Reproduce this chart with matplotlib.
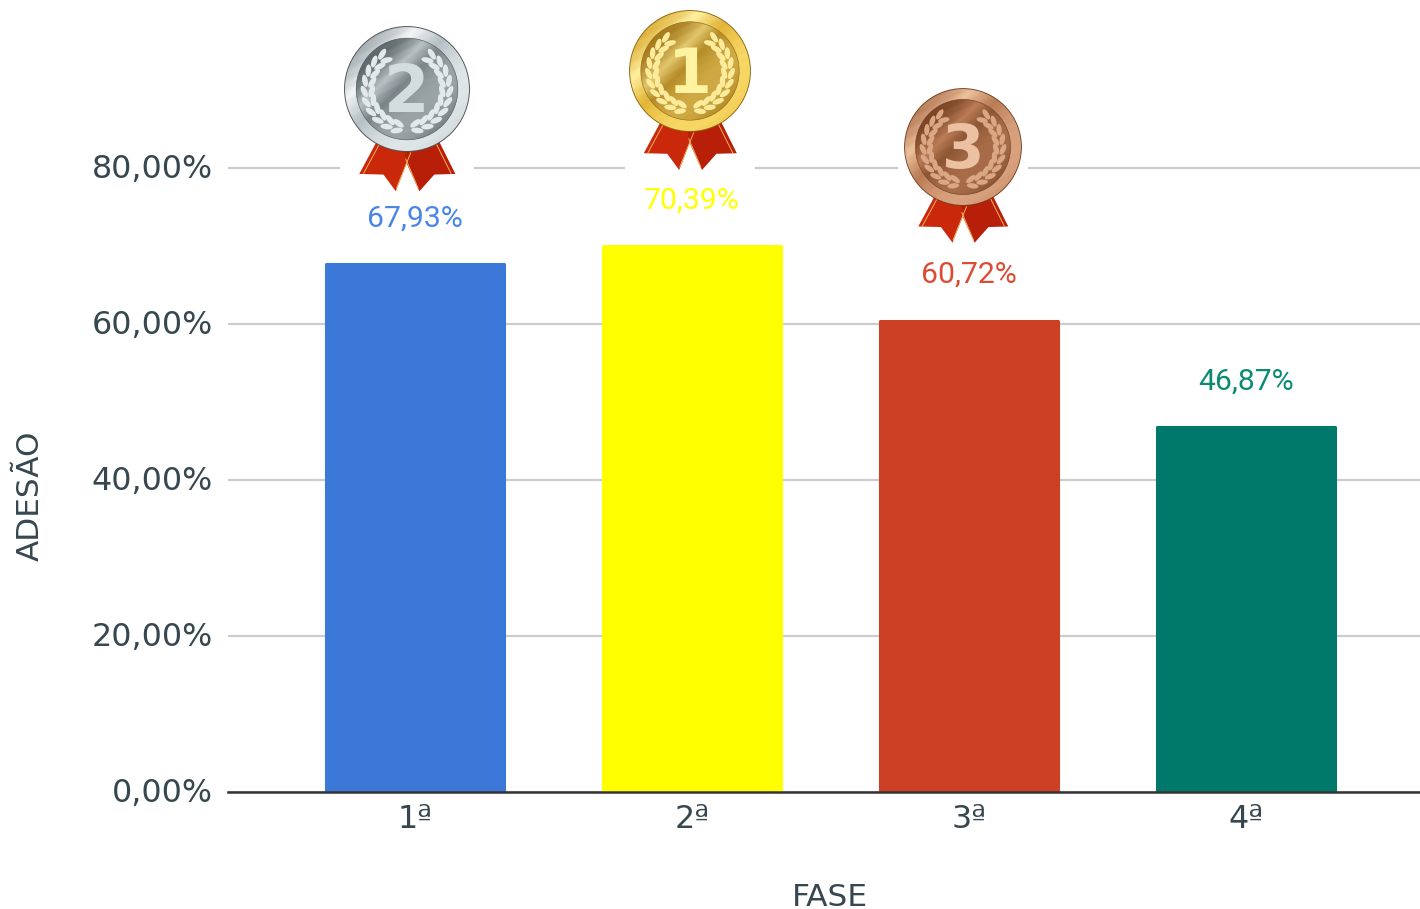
# -*- coding: utf-8 -*-

#-------------------------------------------------------------------------------
# PACKAGES
import numpy as np
import matplotlib.pyplot as plt
from matplotlib.colors import LinearSegmentedColormap
from matplotlib.patches import Circle, Ellipse, Polygon, Rectangle
from matplotlib.transforms import ScaledTranslation
#-------------------------------------------------------------------------------

#-------------------------------------------------------------------------------
# DATA
fases = ["1ª", "2ª", "3ª", "4ª"]
adesao = [67.7, 70.0, 60.4, 46.8]
rotulos = ["67,93%", "70,39%", "60,72%", "46,87%"]
cores_barra = ["#3c78d8", "#ffff00", "#cc4125", "#00796b"]
cores_rotulo = ["#4a86e8", "#ffff00", "#dd4b33", "#0b8a74"]
yticks = [0, 20, 40, 60, 80]
ytick_labels = ["0,00%", "20,00%", "40,00%", "60,00%", "80,00%"]

TXT = "#37474f"
W, H = 1420, 909
#-------------------------------------------------------------------------------

#-------------------------------------------------------------------------------
# CHART
fig = plt.figure(figsize=(W / 100, H / 100), dpi=100)
ax = fig.add_axes([228 / W, (H - 792) / H, (W - 228) / W, 792 / H])

x = np.arange(len(fases))
ax.bar(x, adesao, width=0.644, color=cores_barra, edgecolor=cores_barra,
       linewidth=2.2, joinstyle="round", zorder=2)
ax.set_xlim(-0.675, 3.628)
ax.set_ylim(0, 792 / 7.8)

ax.set_yticks(yticks)
ax.set_yticklabels(ytick_labels)
ax.set_xticks(x)
ax.set_xticklabels(fases)
ax.tick_params(axis="both", length=0, labelsize=22.9, labelcolor=TXT)
ax.tick_params(axis="y", pad=11)
ax.tick_params(axis="x", pad=9)
sobe = ScaledTranslation(0, 1.5 / 72, fig.dpi_scale_trans)
for lab in ax.get_yticklabels():
    lab.set_transform(lab.get_transform() + sobe)
ax.grid(axis="y", color="#cccccc", linewidth=1.6, zorder=1)
ax.set_axisbelow(True)
for s in ["top", "right", "left"]:
    ax.spines[s].set_visible(False)
ax.spines["bottom"].set_color("#333333")
ax.spines["bottom"].set_linewidth(1.8)
ax.spines["bottom"].set_zorder(5)

for xi, v, rot, c in zip(x, adesao, rotulos, cores_rotulo):
    ax.annotate(rot, (xi, v), xytext=(0, 33), textcoords="offset points",
                ha="center", va="center", fontsize=21.7, color=c,
                family="Roboto", zorder=6)

fig.text(830 / W, 1 - 897 / H, "FASE", ha="center", va="center",
         fontsize=22.5, color=TXT)
fig.text(30 / W, 1 - 496 / H, "ADESÃO", ha="center", va="center",
         rotation=90, fontsize=22.4, color=TXT)
#-------------------------------------------------------------------------------

#-------------------------------------------------------------------------------
# MEDALS (overlay in pixel coordinates)
ov = fig.add_axes([0, 0, 1, 1], zorder=10)
ov.patch.set_alpha(0)
ov.axis("off")


def metal(cx, cy, r, cores, ang):
    cmap = LinearSegmentedColormap.from_list("m", cores)
    u, v = np.meshgrid(np.linspace(-1, 1, 200), np.linspace(-1, 1, 200))
    t = 0.5 + 0.5 * np.sin(ang * (u * 0.7 + v * 0.7) + 0.6)
    t = t + 0.012 * np.sin(40 * (u * 0.5 + v))
    im = ov.imshow(t, cmap=cmap, vmin=0, vmax=1, origin="upper", aspect="auto",
                   extent=(cx - r, cx + r, cy + r, cy - r), zorder=4)
    im.set_clip_path(Circle((cx, cy), r, transform=ov.transData))


def medal(cx, cy, r, num, rim, face, folha, numcor, borda, half, top, bottom):
    ov.add_patch(Rectangle((cx - half, top), 2 * half, bottom - top,
                           color="white", lw=0, zorder=1))
    # ribbons
    esq = [(-0.49, 0.85), (-0.77, 1.37), (-0.38, 1.38), (-0.18, 1.65), (0.06, 1.03), (0.06, 0.85)]
    dir = [(0.52, 0.85), (0.78, 1.37), (0.44, 1.38), (0.20, 1.65), (-0.01, 1.19), (-0.06, 0.85)]
    ov.add_patch(Polygon([(cx + r * a, cy + r * b) for a, b in esq], closed=True,
                         color="#c9280a", lw=0, zorder=2))
    ov.add_patch(Polygon([(cx + r * a, cy + r * b) for a, b in dir], closed=True,
                         color="#b81f08", lw=0, zorder=2))
    for x0, y0, x1, y1 in [(-0.70, 1.36, -0.44, 0.88), (0.71, 1.36, 0.47, 0.88),
                           (-0.17, 1.60, 0.06, 1.03), (0.18, 1.60, -0.02, 1.13)]:
        ov.plot([cx + x0 * r, cx + x1 * r], [cy + y0 * r, cy + y1 * r],
                color="#f0b060", lw=0.7, zorder=3)
    # disc
    ov.add_patch(Circle((cx, cy), r * 1.015, color=borda, lw=0, zorder=3))
    metal(cx, cy, r, rim, 1.6)
    metal(cx, cy, r * 0.82, face, 2.2)
    ov.add_patch(Circle((cx, cy), r * 0.82, fill=False, ec=borda, lw=0.4, zorder=5))
    # laurel
    for sx in [-1, 1]:
        for ang in np.arange(14, 148, 14.5):
            a = np.radians(ang)
            for off, rr in [(-22, 0.69), (22, 0.57)]:
                ex = cx + sx * rr * r * np.sin(a)
                ey = cy + rr * r * np.cos(a)
                ov.add_patch(Ellipse((ex, ey), r * 0.2, r * 0.09,
                                     angle=-sx * (ang + off),
                                     color=folha, lw=0, zorder=5))
    ov.text(cx, cy - 0.03 * r, num, ha="center", va="center_baseline", fontsize=r * 0.76,
            fontweight="bold", color=numcor, zorder=6)


medal(407, 89, 62, "2",
      ["#8f999e", "#f2f5f6", "#b5bfc3", "#dfe6e8"],
      ["#5f686c", "#b9c1c4", "#7a8387", "#9aa3a6"],
      "#e3e9eb", "#d3dcdf", "#4c5357", 67, 20, 193)
medal(690, 71, 60, "1",
      ["#d59f1f", "#fff0a0", "#e2b436", "#f8d765"],
      ["#a87c1e", "#e3c76d", "#b58c28", "#cfa944"],
      "#fbeb9a", "#fdf3a0", "#8e6410", 65, 5, 172)
medal(963, 147, 58, "3",
      ["#a86a45", "#ecc09c", "#b97a52", "#d9a27e"],
      ["#7c4626", "#bb7d56", "#8c5533", "#a86c48"],
      "#dba684", "#ecc0a2", "#6d3d20", 65, 85, 245)

ov.set_xlim(0, W)
ov.set_ylim(H, 0)
#-------------------------------------------------------------------------------

plt.savefig("out.png", dpi=100)
plt.close()
